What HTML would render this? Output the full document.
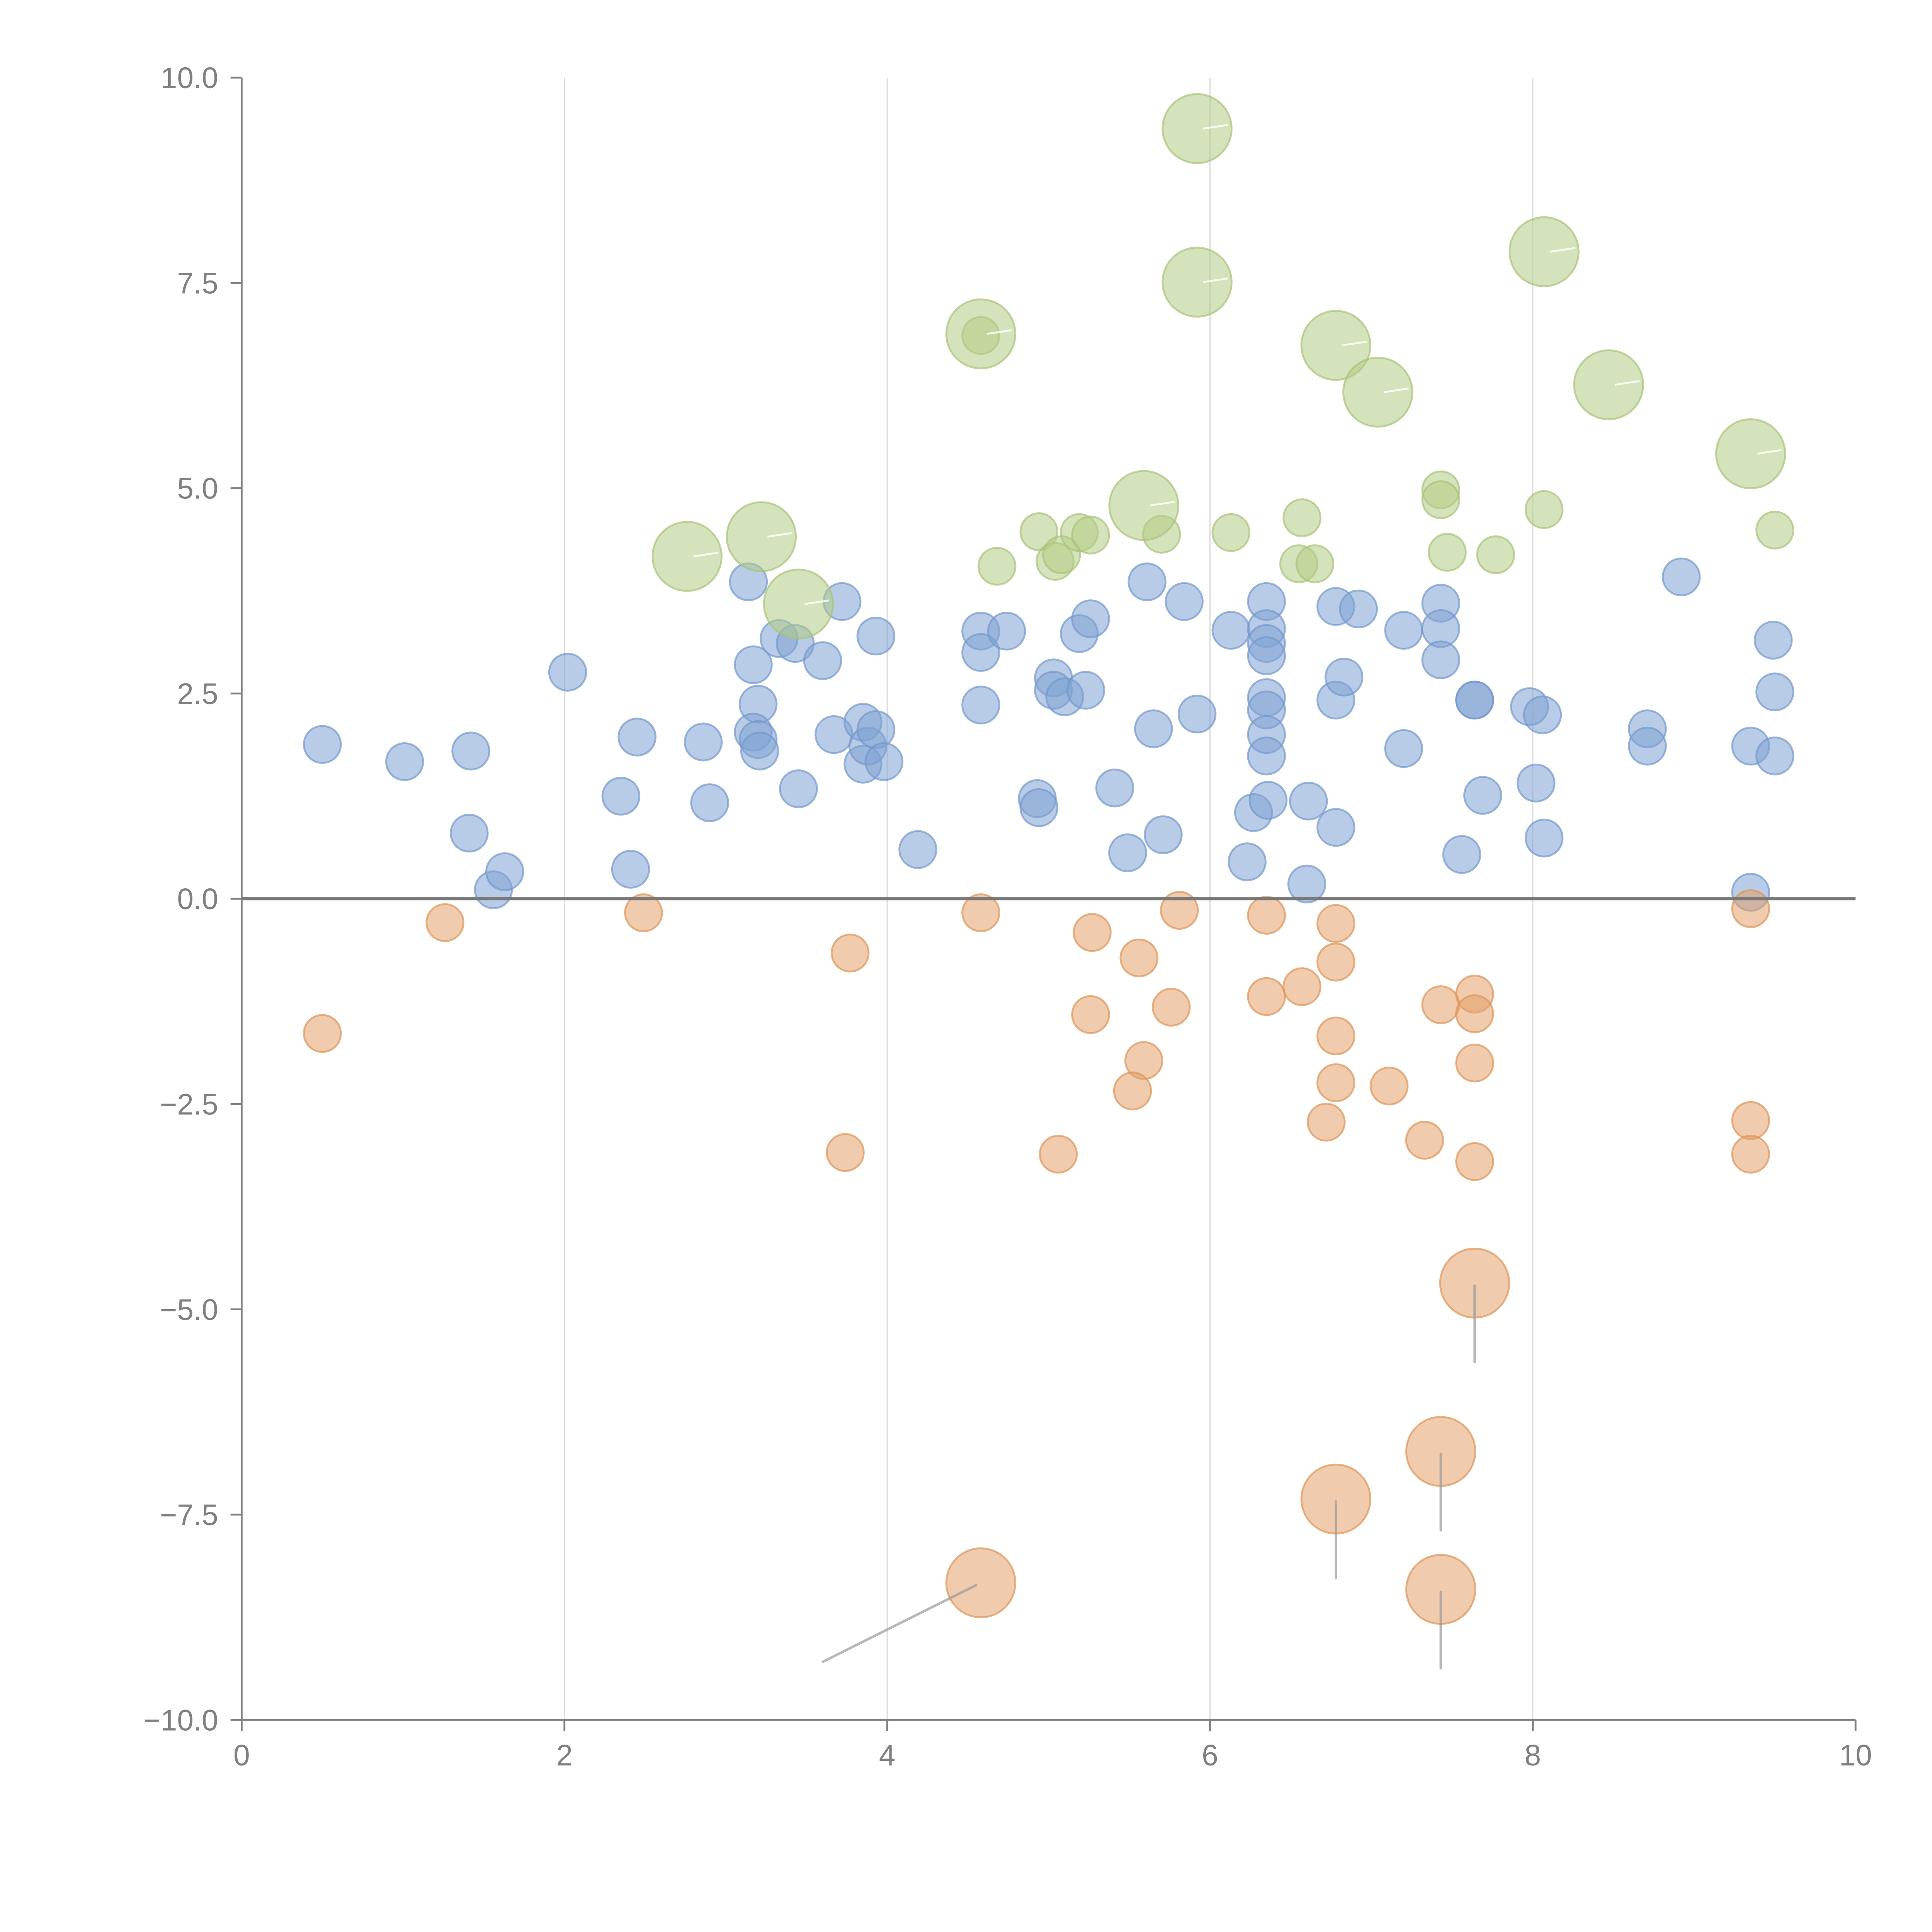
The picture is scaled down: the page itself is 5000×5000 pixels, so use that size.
<!DOCTYPE html>
<html><head><meta charset="utf-8">
<style>
html,body{margin:0;padding:0;background:#fff;}
svg{display:block;}
text{font-family:"Liberation Sans",Arial,sans-serif;fill:#808080;}
</style></head>
<body>
<svg id="chart" width="5000" height="5000" viewBox="0 0 1567 1567" xmlns="http://www.w3.org/2000/svg">
<g id="grid"></g>
<g id="marks"></g>
<g id="axes"></g>
</svg>
<script>
const xTicks = [0, 2, 4, 6, 8, 10];
const yTicks = [-10, -7.5, -5, -2.5, 0, 2.5, 5, 7.5, 10];
const yTickLabels = ["\u221210.0", "\u22127.5", "\u22125.0", "\u22122.5", "0.0", "2.5", "5.0", "7.5", "10.0"];
const xTickLabels = ["0", "2", "4", "6", "8", "10"];

const blueX = [0.50,1.01,1.42,1.41,1.56,1.63,2.02,2.35,2.41,2.45,2.86,2.90,3.14,3.17,3.20,3.17,3.20,3.21,3.33,3.43,3.45,3.60,3.67,3.72,3.85,3.85,3.88,3.93,3.93,3.98,4.19,4.58,4.58,4.58,4.74,4.93,4.94,5.03,5.03,5.10,5.19,5.23,5.26,5.41,5.49,5.61,5.65,5.71,5.84,5.92,6.13,6.23,6.27,6.35,6.35,6.35,6.35,6.35,6.35,6.35,6.35,6.36,6.60,6.61,6.78,6.78,6.78,6.83,6.92,7.20,7.20,7.43,7.43,7.43,7.56,7.64,7.64,7.69,7.98,8.02,8.06,8.07,8.71,8.71,8.92,9.35,9.35,9.49,9.50,9.50];
const blueY = [1.88,1.67,1.80,0.80,0.11,0.33,2.76,1.25,0.36,1.97,1.91,1.17,3.86,2.85,2.37,2.03,1.94,1.80,3.17,3.11,1.34,2.90,2.00,3.62,2.15,1.64,1.86,2.06,3.20,1.67,0.60,3.26,3.00,2.36,3.26,1.22,1.11,2.69,2.54,2.46,3.23,2.54,3.41,1.35,0.56,3.86,2.07,0.78,3.62,2.25,3.27,0.45,1.05,3.62,3.29,3.11,2.96,2.45,2.30,2.00,1.74,1.20,0.18,1.19,3.56,2.42,0.87,2.70,3.53,3.27,1.83,3.60,3.29,2.91,0.54,2.42,2.42,1.26,2.34,1.41,2.24,0.74,2.07,1.86,3.92,1.86,0.08,3.15,2.52,1.74];

const orangeX = [0.50,1.26,2.49,3.77,3.74,4.58,5.06,5.27,5.26,5.56,5.59,5.52,5.76,5.81,6.35,6.35,6.57,6.78,6.78,6.78,6.78,6.72,7.11,7.33,7.43,7.64,7.64,7.64,7.64,9.35,9.35,9.35];
const orangeY = [-1.64,-0.29,-0.17,-0.66,-3.09,-0.17,-3.11,-0.41,-1.41,-0.72,-1.97,-2.34,-1.32,-0.14,-0.20,-1.19,-1.07,-0.30,-0.77,-1.67,-2.24,-2.72,-2.28,-2.94,-1.29,-1.16,-1.40,-2.00,-3.20,-0.12,-2.70,-3.11];
const orangeBigX = [4.58,7.64,7.43,6.78,7.43];
const orangeBigY = [-8.33,-4.68,-6.73,-7.31,-8.41];

const greenX = [4.58,4.68,4.94,5.04,5.08,5.19,5.26,5.70,6.13,6.55,6.57,6.65,7.43,7.43,7.47,7.77,8.07,9.50];
const greenY = [6.86,4.05,4.47,4.11,4.19,4.46,4.43,4.44,4.46,4.08,4.64,4.08,4.98,4.86,4.22,4.19,4.74,4.49];
const greenBigX = [2.76,3.22,3.45,4.58,5.59,5.92,5.92,6.78,7.04,8.07,8.47,9.35];
const greenBigY = [4.17,4.41,3.59,6.88,4.79,9.38,7.51,6.74,6.17,7.88,6.26,5.42];

const NS = "http://www.w3.org/2000/svg";
const X0 = 196, X1 = 1505, Y0 = 1395, Y1 = 63;
function sx(v){ return X0 + (v - 0) / 10 * (X1 - X0); }
function sy(v){ return Y0 - (v + 10) / 20 * (Y0 - Y1); }
function mk(tag, attrs, parent){
  const e = document.createElementNS(NS, tag);
  for (const k in attrs) e.setAttribute(k, attrs[k]);
  parent.appendChild(e);
  return e;
}
const grid = document.getElementById('grid');
const marks = document.getElementById('marks');
const axes = document.getElementById('axes');

xTicks.forEach(function(t){
  if (t === 0 || t === 10) return;
  const l = mk('line', {x1: sx(t), x2: sx(t), y1: Y1, y2: Y0, stroke: '#dcdcdc', 'stroke-width': 1}, grid);
  
  
});

function drawSeries(xs, ys, r, fill, stroke, name){
  xs.forEach(function(x, i){
    const c = mk('circle', {cx: sx(x), cy: sy(ys[i]), r: r, fill: fill, 'fill-opacity': 0.55, stroke: stroke, 'stroke-opacity': 0.7, 'stroke-width': 1.5}, marks);
    
    
  });
}
drawSeries(blueX, blueY, 15, '#7fa2d4', '#7397cc', 'bubble-blue');
drawSeries(orangeX, orangeY, 15, '#e4a16a', '#dd9457', 'bubble-orange');
drawSeries(greenX, greenY, 15, '#b3cc85', '#a8c278', 'bubble-green');
drawSeries(greenBigX, greenBigY, 28, '#b3cc85', '#a8c278', 'bubble-green-large');
drawSeries(orangeBigX, orangeBigY, 28, '#e4a16a', '#dd9457', 'bubble-orange-large');

orangeBigX.forEach(function(x, i){
  const cx = sx(x), cy = sy(orangeBigY[i]);
  const diag = (i === 0);
  const l = mk('line', {x1: diag ? cx - 4 : cx, y1: cy + 2, x2: diag ? cx - 128 : cx, y2: cy + 64, stroke: '#999', 'stroke-opacity': 0.7, 'stroke-width': 2, 'stroke-linecap': 'round'}, marks);
  
  
});
greenBigX.forEach(function(x, i){
  const cx = sx(x), cy = sy(greenBigY[i]);
  const l = mk('line', {x1: cx + 5, y1: cy, x2: cx + 25, y2: cy - 3, stroke: '#fff', 'stroke-opacity': 0.8, 'stroke-width': 1.5}, marks);
  
  
});

const zl = mk('line', {x1: X0, x2: X1, y1: sy(0), y2: sy(0), stroke: '#777', 'stroke-width': 2.5}, axes);



const ls = mk('line', {x1: X0, x2: X0, y1: Y1, y2: Y0, stroke: '#808080', 'stroke-width': 1.5}, axes);


const bs = mk('line', {x1: X0, x2: X1, y1: Y0, y2: Y0, stroke: '#808080', 'stroke-width': 1.5}, axes);



yTicks.forEach(function(t, i){
  const y = sy(t);
  const tk = mk('line', {x1: X0 - 9, x2: X0, y1: y, y2: y, stroke: '#808080', 'stroke-width': 1.5}, axes);
  
  
  const tx = mk('text', {x: X0 - 19, y: y + 8.5, 'text-anchor': 'end', 'font-size': 24}, axes);
  tx.textContent = yTickLabels[i];
  
  
});
xTicks.forEach(function(t, i){
  const x = sx(t);
  const tk = mk('line', {x1: x, x2: x, y1: Y0, y2: Y0 + 9, stroke: '#808080', 'stroke-width': 1.5}, axes);
  
  
  const tx = mk('text', {x: x, y: Y0 + 37, 'text-anchor': 'middle', 'font-size': 24}, axes);
  tx.textContent = xTickLabels[i];
  
  
});
</script>
</body></html>
